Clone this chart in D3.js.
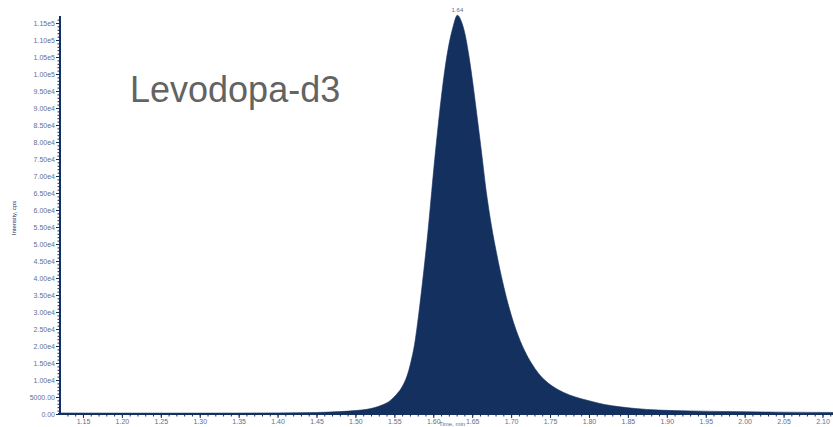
<!DOCTYPE html>
<html>
<head>
<meta charset="utf-8">
<script src="https://cdn.jsdelivr.net/npm/d3@7"></script>
<style>
  html, body { margin: 0; padding: 0; background: #fff; }
  svg { display: block; }
  .tick text { font-family: "Liberation Sans", Arial, sans-serif; }
</style>
</head>
<body>
<div id="chart"></div>
<script>
// retention time (min) and intensity (cps)
const rt = [1.120, 1.150, 1.200, 1.250, 1.300, 1.350, 1.400, 1.450, 1.480, 1.500,
            1.515, 1.525, 1.535, 1.545, 1.553, 1.560, 1.566, 1.571, 1.576, 1.580,
            1.584, 1.588, 1.592, 1.596, 1.600, 1.605, 1.610, 1.615, 1.620, 1.625,
            1.631, 1.636, 1.641, 1.646, 1.651, 1.656, 1.662, 1.668, 1.675, 1.682,
            1.689, 1.696, 1.703, 1.710, 1.718, 1.726, 1.735, 1.745, 1.760, 1.775,
            1.790, 1.805, 1.820, 1.840, 1.860, 1.890, 1.930, 1.980, 2.040, 2.115];
const intensity = [300, 280, 260, 250, 260, 280, 330, 450, 700, 1000,
                   1400, 1900, 2700, 4000, 5800, 8000, 11000, 15000, 20500, 27000,
                   34500, 42500, 51000, 60500, 70500, 82000, 92500, 101500, 108500, 113500,
                   117300, 115500, 111500, 105000, 97000, 88000, 77000, 65500, 55000, 46500,
                   39000, 32500, 27000, 22500, 18300, 15000, 12000, 9600, 7200, 5600,
                   4500, 3600, 2800, 2100, 1600, 1150, 900, 700, 550, 450];
const xTicks = [1.15, 1.20, 1.25, 1.30, 1.35, 1.40, 1.45, 1.50, 1.55, 1.60,
                1.65, 1.70, 1.75, 1.80, 1.85, 1.90, 1.95, 2.00, 2.05, 2.10];
const yTicks = d3.range(0, 115001, 5000);
const peakLabel = "1.64";
const compound = "Levodopa-d3";

const width = 833, height = 427;
const navy = "#14305f";
const tickCol = "#5f6f92";

const svg = d3.select("#chart").append("svg")
    .attr("width", width).attr("height", height);

const x = d3.scaleLinear().domain([1.1205, 2.1135]).range([60, 833]);
const y = d3.scaleLinear().domain([0, 115000]).range([414, 23]);

const pts = rt.map((t, i) => ({ t: t, v: intensity[i] }));

// filled chromatogram
const area = d3.area()
    .x(d => x(d.t))
    .y0(y(0))
    .y1(d => y(d.v))
    .curve(d3.curveMonotoneX);

svg.append("path")
    .datum(pts)
    .attr("d", area)
    .attr("fill", navy)
    .attr("stroke", navy)
    .attr("stroke-width", 0.6);

// y axis, major + minor ticks
const fmtY = v => v === 0 ? "0.00" : v < 10000 ? v.toFixed(2) : v.toExponential(2).replace("+", "");

svg.append("g")
    .attr("transform", "translate(60,0)")
    .call(d3.axisLeft(y).tickValues(d3.range(0, 116001, 1000)).tickSize(2.5).tickFormat(""))
    .call(g => g.select(".domain").remove())
    .call(g => g.selectAll("line").attr("stroke", navy));

const yAxis = svg.append("g")
    .attr("transform", "translate(60,0)")
    .call(d3.axisLeft(y).tickValues(yTicks).tickSize(4).tickPadding(1).tickFormat(fmtY));
yAxis.select(".domain").attr("d", "M0,414V16").attr("stroke", navy).attr("stroke-width", 2);
yAxis.selectAll("line").attr("stroke", navy);
yAxis.selectAll("text").attr("font-size", 7).attr("fill", tickCol);

// x axis, major + minor ticks
svg.append("g")
    .attr("transform", "translate(0,414)")
    .call(d3.axisBottom(x).tickValues(d3.range(1.13, 2.115, 0.01)).tickSize(2.5).tickFormat(""))
    .call(g => g.select(".domain").remove())
    .call(g => g.selectAll("line").attr("stroke", navy));

const xAxis = svg.append("g")
    .attr("transform", "translate(0,414)")
    .call(d3.axisBottom(x).tickValues(xTicks).tickSize(4).tickPadding(1).tickFormat(d3.format(".2f")));
xAxis.select(".domain").attr("d", "M58,0H833").attr("stroke", navy).attr("stroke-width", 2);
xAxis.selectAll("line").attr("stroke", navy);
xAxis.selectAll("text").attr("font-size", 7).attr("fill", tickCol);

// axis titles
svg.append("text")
    .attr("transform", "translate(16,218) rotate(-90)")
    .attr("text-anchor", "middle")
    .attr("font-family", "Liberation Sans, Arial, sans-serif")
    .attr("font-size", 6)
    .attr("fill", navy)
    .text("Intensity, cps");

svg.append("text")
    .attr("x", 452).attr("y", 426)
    .attr("text-anchor", "middle")
    .attr("font-family", "Liberation Sans, Arial, sans-serif")
    .attr("font-size", 6)
    .attr("fill", tickCol)
    .text("Time, min");

// apex label
const apex = pts.reduce((a, b) => b.v > a.v ? b : a);
svg.append("text")
    .attr("x", x(apex.t)).attr("y", y(apex.v) - 3)
    .attr("text-anchor", "middle")
    .attr("font-family", "Liberation Sans, Arial, sans-serif")
    .attr("font-size", 6)
    .attr("fill", tickCol)
    .text(peakLabel);

// compound name
svg.append("text")
    .attr("x", 130).attr("y", 102)
    .attr("font-family", "Liberation Sans, Arial, sans-serif")
    .attr("font-size", 36)
    .attr("fill", "#636363")
    .text(compound);
</script>
</body>
</html>
